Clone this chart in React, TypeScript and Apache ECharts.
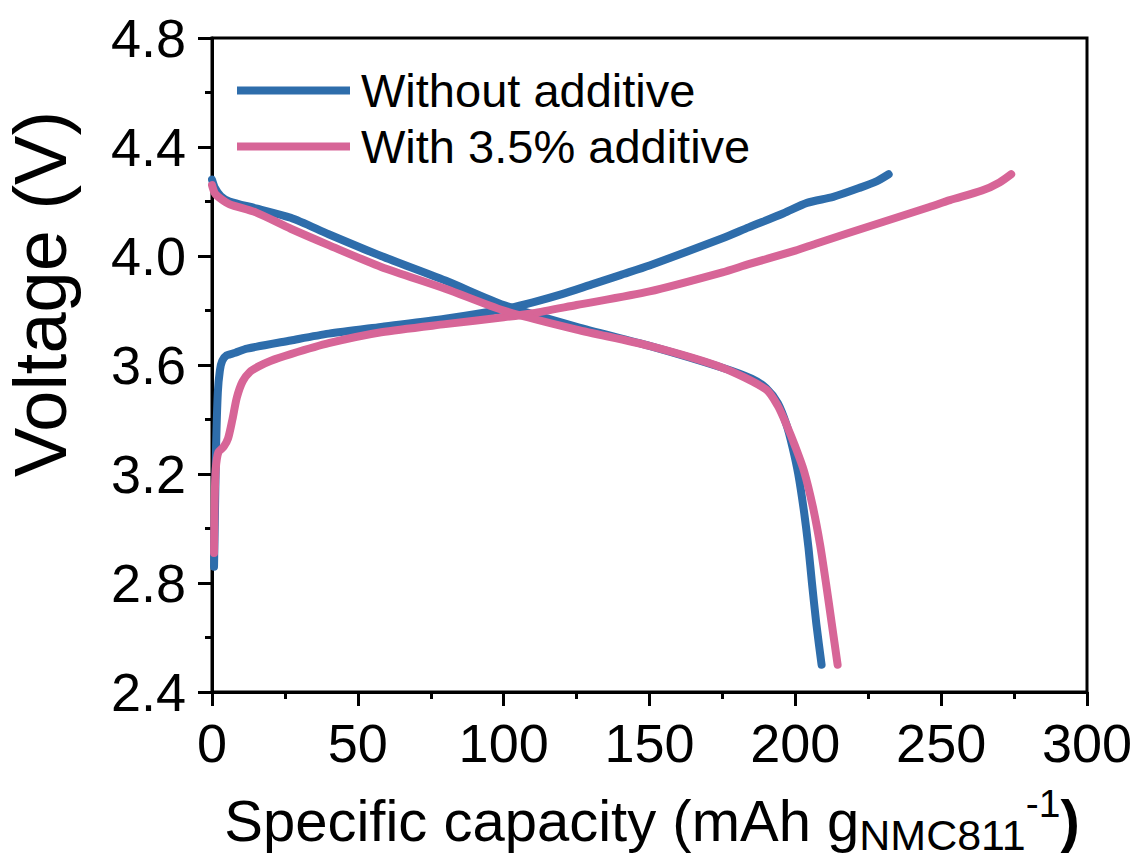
import React, { useEffect, useRef } from "react";
import * as echarts from "echarts";

// Specific capacity (mAh g-1), Voltage (V)
const withoutCharge: [number, number][] = [
  [0.7, 2.86], [1.0, 3.05], [1.4, 3.3], [2.0, 3.5], [2.7, 3.58], [3.5, 3.615],
  [5, 3.635], [8, 3.645], [12, 3.66], [27, 3.69], [40, 3.715], [58, 3.74],
  [80, 3.77], [100, 3.805], [110, 3.83], [120, 3.86], [130, 3.895], [140, 3.93],
  [150, 3.965], [175, 4.065], [184, 4.105], [196, 4.157], [204, 4.195],
  [213, 4.217], [222, 4.25], [228, 4.275], [232, 4.30],
];
const withoutDischarge: [number, number][] = [
  [0, 4.28], [1, 4.25], [3, 4.22], [6, 4.2], [15, 4.175], [27, 4.14], [40, 4.08],
  [58, 4.0], [80, 3.91], [100, 3.82], [125, 3.74], [150, 3.67], [175, 3.59],
  [185, 3.55], [190, 3.515], [194, 3.46], [197, 3.38], [199, 3.3], [201, 3.2],
  [203, 3.06], [204.5, 2.93], [205.7, 2.8], [207.2, 2.65], [209, 2.5],
];
const withCharge: [number, number][] = [
  [0.7, 2.91], [0.9, 3.1], [1.3, 3.22], [2.2, 3.28], [4, 3.3], [5.5, 3.33],
  [7, 3.4], [8.5, 3.48], [10.5, 3.54], [13, 3.575], [16, 3.595], [20, 3.615],
  [27, 3.64], [40, 3.68], [58, 3.72], [80, 3.75], [100, 3.775], [110, 3.79],
  [125, 3.82], [150, 3.87], [175, 3.94], [184, 3.97], [200, 4.02], [207, 4.045],
  [230, 4.125], [246, 4.18], [253, 4.205], [264, 4.24], [270, 4.27], [274, 4.3],
];
const withDischarge: [number, number][] = [
  [0, 4.26], [1, 4.23], [3, 4.21], [6, 4.19], [15, 4.16], [27, 4.1], [40, 4.04],
  [58, 3.96], [80, 3.88], [100, 3.8], [125, 3.73], [150, 3.67], [175, 3.59],
  [190, 3.51], [194, 3.45], [197, 3.38], [200, 3.3], [203, 3.21], [206, 3.08],
  [208.5, 2.94], [210.5, 2.8], [212.5, 2.65], [214.5, 2.5],
];

const seriesNames = ["Without additive", "With 3.5% additive"];
const colors = ["#2e6dab", "#d76597"];

const FONT = "'Liberation Sans', Arial, Helvetica, sans-serif";

export default function App() {
  const ref = useRef<HTMLDivElement>(null);
  useEffect(() => {
    if (!ref.current) return;
    const chart = echarts.init(ref.current, null, { renderer: "svg" });
    const mk = (name: string, color: string, data: [number, number][]) => ({
      type: "line",
      name,
      data,
      smooth: 0.25,
      showSymbol: false,
      symbol: "none",
      lineStyle: { color, width: 8, cap: "round", join: "round" },
      itemStyle: { color },
      z: 3,
    });
    chart.setOption({
      animation: false,
      backgroundColor: "#ffffff",
      textStyle: { fontFamily: FONT },
      grid: {
        left: 212,
        top: 38,
        right: 52,
        bottom: 170,
        show: true,
        borderColor: "#000",
        borderWidth: 3,
        backgroundColor: "transparent",
      },
      legend: {
        orient: "vertical",
        left: 237,
        top: 67,
        padding: 0,
        itemWidth: 113,
        itemHeight: 8,
        itemGap: 9,
        icon: "rect",
        data: seriesNames,
        textStyle: {
          fontSize: 47,
          color: "#000",
          fontFamily: FONT,
          padding: [0, 0, 0, 6],
        },
      },
      xAxis: {
        type: "value",
        min: 0,
        max: 300,
        interval: 50,
        axisLine: { show: true, lineStyle: { color: "#000", width: 3 } },
        axisTick: { show: true, inside: false, length: 14, lineStyle: { color: "#000", width: 3 } },
        minorTick: { show: true, splitNumber: 2, length: 7, lineStyle: { color: "#000", width: 3 } },
        splitLine: { show: false },
        axisLabel: { fontSize: 54, color: "#000", margin: 24, fontFamily: FONT },
      },
      yAxis: {
        type: "value",
        min: 2.4,
        max: 4.8,
        interval: 0.4,
        axisLine: { show: true, lineStyle: { color: "#000", width: 3 } },
        axisTick: { show: true, inside: false, length: 14, lineStyle: { color: "#000", width: 3 } },
        minorTick: { show: true, splitNumber: 2, length: 7, lineStyle: { color: "#000", width: 3 } },
        splitLine: { show: false },
        axisLabel: {
          fontSize: 54,
          color: "#000",
          margin: 26,
          fontFamily: FONT,
          formatter: (v: number) => v.toFixed(1),
        },
      },
      graphic: [
        {
          type: "text",
          x: 40,
          y: 294,
          rotation: Math.PI / 2,
          style: {
            text: "Voltage (V)",
            fontSize: 74,
            fontFamily: FONT,
            fill: "#000",
            align: "center",
            verticalAlign: "middle",
          },
        },
        {
          type: "text",
          x: 652,
          y: 820,
          style: {
            text: "{m|Specific capacity (mAh g}{s|NMC811}{p|-1}{b|)}",
            fill: "#000",
            align: "center",
            verticalAlign: "middle",
            rich: {
              m: { fontSize: 58, lineHeight: 72, verticalAlign: "middle", fontFamily: FONT, fill: "#000" },
              s: { fontSize: 43, lineHeight: 34, verticalAlign: "bottom", fontFamily: FONT, fill: "#000" },
              p: { fontSize: 39, lineHeight: 44, verticalAlign: "top", fontFamily: FONT, fill: "#000" },
              b: { fontSize: 58, lineHeight: 72, verticalAlign: "middle", fontFamily: FONT, fontWeight: "bold", fill: "#000" },
            },
          },
        },
      ],
      series: [
        mk(seriesNames[0], colors[0], withoutCharge),
        mk(seriesNames[0], colors[0], withoutDischarge),
        mk(seriesNames[1], colors[1], withCharge),
        mk(seriesNames[1], colors[1], withDischarge),
      ],
    });
    return () => chart.dispose();
  }, []);
  return <div ref={ref} style={{ width: 1139, height: 862, margin: -8 }} />;
}
